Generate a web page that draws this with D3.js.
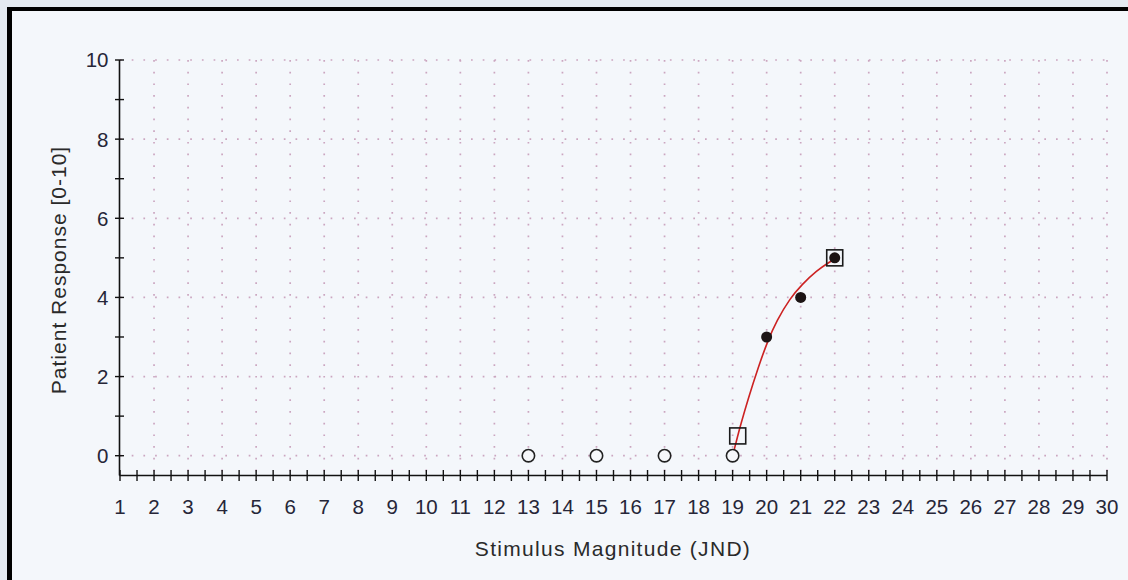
<!DOCTYPE html>
<html>
<head>
<meta charset="utf-8">
<script src="https://cdn.jsdelivr.net/npm/d3@7"></script>
<style>
  html, body { margin: 0; padding: 0; background: #e4eaf1; }
  svg { display: block; }
</style>
</head>
<body>
<svg id="chart" width="1128" height="580"></svg>
<script>
// Stimulus magnitudes tested that produced no response
const zeroX = [13, 15, 17, 19];
const zeroY = [0, 0, 0, 0];
// Stimulus magnitudes with a rated response
const respX = [20, 21, 22];
const respY = [3, 4, 5];
// Fitted response curve
const fitX = [19.03, 19.15, 19.22, 19.46, 19.76, 20.02, 20.30, 20.69, 21.03, 21.47, 21.86, 22.0];
const fitY = [0.10, 0.50, 0.73, 1.45, 2.25, 2.88, 3.42, 3.98, 4.32, 4.68, 4.90, 4.97];
// Curve end markers (threshold and maximum)
const markX = [19.15, 22];
const markY = [0.5, 5];
// Axis ticks
const xTickLabels = d3.range(1, 31);
const yTickLabels = [0, 2, 4, 6, 8, 10];

const svg = d3.select("#chart");
const W = 1128, H = 580;

// page background and frame
svg.append("rect").attr("x", 0).attr("y", 0).attr("width", W).attr("height", H).attr("fill", "#e4eaf1");
svg.append("rect").attr("x", 10).attr("y", 9).attr("width", W - 10).attr("height", H - 9).attr("fill", "#f4f7fb");
svg.append("rect").attr("x", 7).attr("y", 7).attr("width", 5).attr("height", H - 7).attr("fill", "#000");
svg.append("rect").attr("x", 7).attr("y", 7).attr("width", W - 7).attr("height", 4).attr("fill", "#000");

const x = d3.scaleLinear().domain([1, 30]).range([120, 1107]);
const y = d3.scaleLinear().domain([0, 10]).range([455.7, 60]);
const axisY = 475.5;

// dotted grid
const grid = svg.append("g").attr("stroke", "#cba6c0").attr("stroke-width", 1.7)
  .attr("stroke-dasharray", "1.7 10");
grid.selectAll("line.h").data(yTickLabels).join("line")
  .attr("x1", x(1)).attr("x2", x(30))
  .attr("y1", d => y(d)).attr("y2", d => y(d));
grid.selectAll("line.v").data(xTickLabels.slice(1)).join("line")
  .attr("x1", d => x(d)).attr("x2", d => x(d))
  .attr("y1", y(10)).attr("y2", axisY - 4);

const font = "'Liberation Sans', Arial, sans-serif";

// y axis
const yAxis = svg.append("g").attr("transform", `translate(${x(1) - 0.5},0)`);
yAxis.append("line").attr("y1", y(10)).attr("y2", axisY).attr("stroke", "#111").attr("stroke-width", 1.6);
yAxis.selectAll("line.t").data(d3.range(0, 11)).join("line")
  .attr("x1", -4.5).attr("x2", 4.5)
  .attr("y1", d => y(d)).attr("y2", d => y(d))
  .attr("stroke", "#111").attr("stroke-width", 1.4);
yAxis.selectAll("text").data(yTickLabels).join("text")
  .attr("x", -11).attr("y", d => y(d))
  .attr("dy", "0.36em")
  .attr("text-anchor", "end")
  .attr("font-family", font).attr("font-size", 20.5)
  .attr("fill", "#262638")
  .text(d => d);

// x axis
const xAxis = svg.append("g").attr("transform", `translate(0,${axisY})`);
xAxis.append("line").attr("x1", x(1) - 0.5).attr("x2", x(30)).attr("stroke", "#111").attr("stroke-width", 1.6);
xAxis.selectAll("line.t").data(d3.range(1, 30.01, 0.5)).join("line")
  .attr("x1", d => x(d)).attr("x2", d => x(d))
  .attr("y1", -5.5).attr("y2", 5.5)
  .attr("stroke", "#111").attr("stroke-width", 1.4);
xAxis.selectAll("text").data(xTickLabels).join("text")
  .attr("x", d => x(d)).attr("y", 38)
  .attr("text-anchor", "middle")
  .attr("font-family", font).attr("font-size", 20.5)
  .attr("fill", "#262638")
  .text(d => d);

// axis titles
svg.append("text")
  .attr("x", 613).attr("y", 556)
  .attr("text-anchor", "middle")
  .attr("font-family", font).attr("font-size", 21)
  .attr("letter-spacing", 1.3)
  .attr("fill", "#2a2a2a")
  .text("Stimulus Magnitude (JND)");
svg.append("text")
  .attr("transform", "translate(66,270) rotate(-90)")
  .attr("text-anchor", "middle")
  .attr("font-family", font).attr("font-size", 21)
  .attr("letter-spacing", 1.0)
  .attr("fill", "#2a2a2a")
  .text("Patient Response [0-10]");

// fitted curve
const fit = fitX.map((v, i) => [v, fitY[i]]);
svg.append("path")
  .attr("d", d3.line().x(d => x(d[0])).y(d => y(d[1])).curve(d3.curveBasis)(fit))
  .attr("fill", "none").attr("stroke", "#cc2222").attr("stroke-width", 1.6);

// no-response points
svg.selectAll("circle.zero").data(zeroX.map((v, i) => [v, zeroY[i]])).join("circle")
  .attr("cx", d => x(d[0])).attr("cy", d => y(d[1])).attr("r", 6.2)
  .attr("fill", "#f6f8fb").attr("stroke", "#222").attr("stroke-width", 1.6);

// response points
svg.selectAll("circle.resp").data(respX.map((v, i) => [v, respY[i]])).join("circle")
  .attr("cx", d => x(d[0])).attr("cy", d => y(d[1])).attr("r", 5.5)
  .attr("fill", "#1c1414");

// curve end markers
svg.selectAll("rect.mark").data(markX.map((v, i) => [v, markY[i]])).join("rect")
  .attr("x", d => x(d[0]) - 8).attr("y", d => y(d[1]) - 8)
  .attr("width", 16).attr("height", 16)
  .attr("fill", "none").attr("stroke", "#1a1a1a").attr("stroke-width", 1.6);
</script>
</body>
</html>
